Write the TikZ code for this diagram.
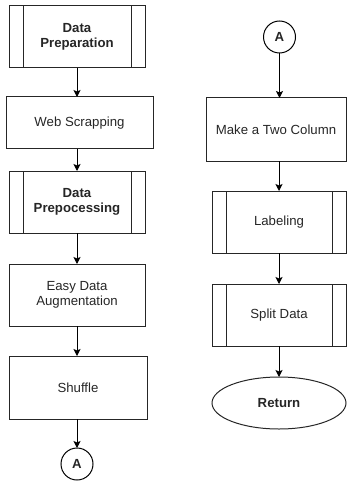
\documentclass[tikz,border=0pt]{standalone}
\usepackage{fontspec}
\setmainfont{Liberation Sans}
\usetikzlibrary{arrows.meta,shapes.geometric}
\begin{document}
\begin{tikzpicture}[x=1pt,y=-1pt,
  every node/.style={inner sep=0pt, outer sep=0pt, text=black!85, font=\fontsize{13.2}{15.5}\selectfont, align=center},
  box/.style={draw=black!85, line width=1pt, rectangle},
  ppbox/.style={box, path picture={
     \draw[line width=1pt, black!85] ([xshift=14pt]path picture bounding box.north west) -- ([xshift=14pt]path picture bounding box.south west);
     \draw[line width=1pt, black!85] ([xshift=-14pt]path picture bounding box.north east) -- ([xshift=-14pt]path picture bounding box.south east);}},
  conn/.style={draw=black, line width=1pt, circle, minimum size=32pt, font=\fontsize{13.2}{15.5}\selectfont\bfseries},
  arr/.style={line width=1pt, black, -{Stealth[length=7pt,width=7pt,inset=1.5pt]}}
]
\useasboundingbox (0,0) rectangle (347,481);
% left column
\node[ppbox, minimum width=136, minimum height=62, font=\fontsize{13.2}{15.5}\selectfont\bfseries] (prep) at (77,37) {Data\\Preparation};
\node[box, minimum width=147, minimum height=52] (web) at (79.5,123) {Web Scrapping};
\node[ppbox, minimum width=136, minimum height=62, font=\fontsize{13.2}{15.5}\selectfont\bfseries] (preproc) at (77,202) {Data\\Prepocessing};
\node[box, minimum width=136, minimum height=62] (eda) at (77,295) {Easy Data\\Augmentation};
\node[box, minimum width=138, minimum height=63] (shuf) at (78,387.5) {Shuffle};
\node[conn] (a1) at (77,464) {A};
% right column
\node[conn] (a2) at (279.5,37) {A};
\node[box, minimum width=140, minimum height=63] (two) at (276,129.5) {Make a Two Column};
\node[ppbox, minimum width=134, minimum height=62] (lab) at (279,222) {Labeling};
\node[ppbox, minimum width=134, minimum height=62] (split) at (279,315) {Split Data};
\node[draw=black!85, line width=1pt, ellipse, minimum width=134, minimum height=52, font=\fontsize{13.2}{15.5}\selectfont\bfseries] (ret) at (279,403) {Return};
% connectors
\draw[arr] (prep.south) -- (prep.south |- web.north);
\draw[arr] (prep.south |- web.south) -- (preproc.north);
\draw[arr] (preproc.south) -- (eda.north);
\draw[arr] (eda.south) -- (eda.south |- shuf.north);
\draw[arr] (eda.south |- shuf.south) -- (a1.north);
\draw[arr] (a2.south) -- (a2.south |- two.north);
\draw[arr] (lab.north |- two.south) -- (lab.north);
\draw[arr] (lab.south) -- (split.north);
\draw[arr] (split.south) -- (ret.north);
\end{tikzpicture}
\end{document}
